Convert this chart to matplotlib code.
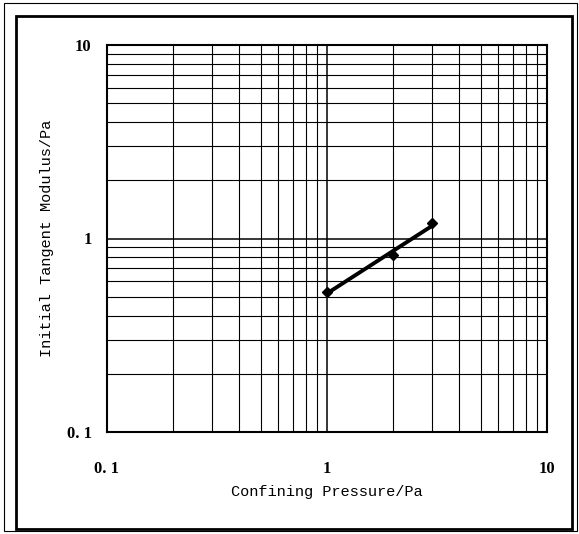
import numpy as np
import matplotlib.pyplot as plt
from matplotlib.patches import Rectangle

# data
confining_pressure = [1.0, 2.0, 3.0]
tangent_modulus = [0.53, 0.82, 1.2]
tick_values = [0.1, 1, 10]
tick_labels = ["0. 1", "1", "10"]

W, H = 579, 534
fig = plt.figure(figsize=(W / 100, H / 100), dpi=100)
ax = fig.add_axes([107 / W, 1 - 432 / H, (547 - 107) / W, (432 - 45) / H])

ax.set_xscale("log")
ax.set_yscale("log")
ax.set_xlim(0.1, 10)
ax.set_ylim(0.1, 10)

# power-law fit line through the points
p = np.polyfit(np.log10(confining_pressure), np.log10(tangent_modulus), 1)
xf = np.array([confining_pressure[0], confining_pressure[-1]])
ax.plot(xf, 10 ** np.polyval(p, np.log10(xf)), color="black", lw=2.8)
ax.plot(confining_pressure, tangent_modulus, "D", color="black", ms=5)

ax.grid(True, which="major", color="black", lw=1.1)
ax.grid(True, which="minor", color="black", lw=0.8)
ax.tick_params(which="both", length=0)
ax.set_xticks(tick_values)
ax.set_xticklabels(tick_labels)
ax.set_yticks(tick_values)
ax.set_yticklabels(tick_labels)
ax.tick_params(axis="x", pad=21)
ax.tick_params(axis="y", pad=11)
for lbl in ax.get_xticklabels() + ax.get_yticklabels():
    lbl.set_family("Liberation Serif")
    lbl.set_fontsize(12)
    lbl.set_fontweight("bold")
for s in ax.spines.values():
    s.set_linewidth(1.5)

ax.set_xlabel("Confining Pressure/Pa", family="Liberation Mono", fontsize=11)
ax.xaxis.set_label_coords(0.5, -(492 - 432) / 387, transform=ax.transAxes)
ax.xaxis.label.set_va("center")
ax.set_ylabel("Initial Tangent Modulus/Pa", family="Liberation Mono",
              fontsize=11)
ax.yaxis.set_label_coords(-(107 - 47) / 440, 0.5)
ax.yaxis.label.set_va("center")

# page frames around the chart
fig.patches.append(Rectangle((4 / W, 1 - 531 / H), 573 / W, 528 / H,
                             transform=fig.transFigure, fill=False,
                             lw=0.8, ec="black"))
fig.patches.append(Rectangle((16 / W, 1 - 529 / H), 556 / W, 513 / H,
                             transform=fig.transFigure, fill=False,
                             lw=2.0, ec="black"))

fig.savefig("out.png", dpi=100)
